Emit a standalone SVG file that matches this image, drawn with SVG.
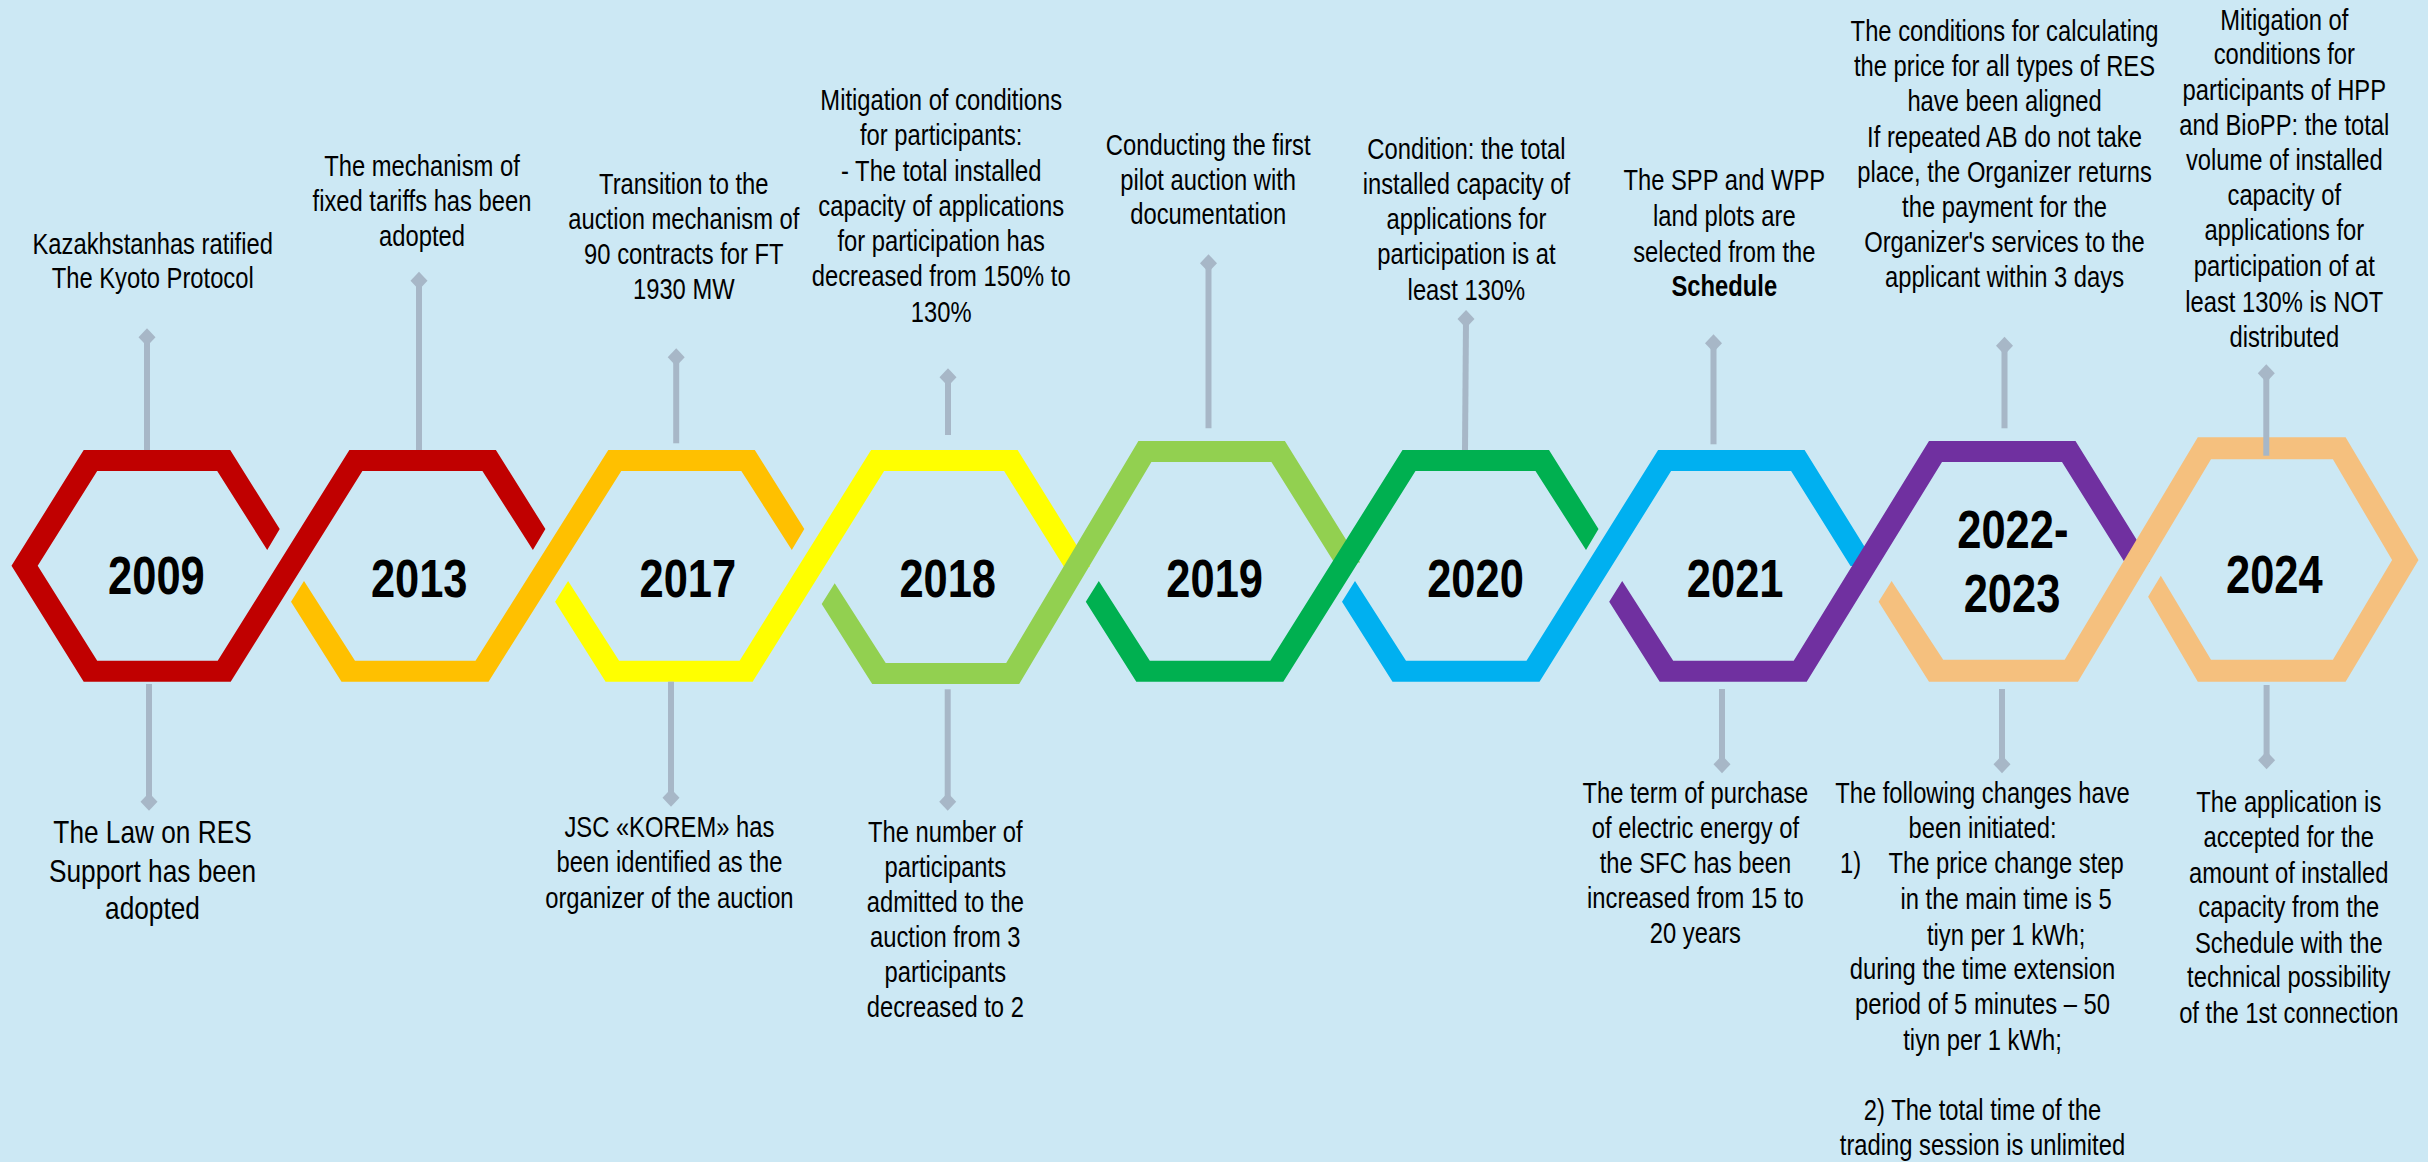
<svg xmlns="http://www.w3.org/2000/svg" width="2428" height="1162" viewBox="0 0 2428 1162">
<defs>
<style>
.t{font-family:"Liberation Sans",Arial,sans-serif;font-size:29px;fill:#000;text-anchor:middle}
.big{font-size:32px}
.yr{font-family:"Liberation Sans",Arial,sans-serif;font-size:53px;font-weight:bold;fill:#000;text-anchor:middle}
.b{font-weight:bold}
.st{text-anchor:start}
.con{stroke:#A7B7C7;stroke-width:6;fill:none;marker-start:url(#dia)}
</style>
<marker id="dia" viewBox="-10 -10 20 20" refX="0" refY="0" markerWidth="20" markerHeight="20" markerUnits="userSpaceOnUse" orient="auto">
<path d="M-9,0 L0,-8.5 L9,0 L0,8.5Z" fill="#A7B7C7"/>
</marker>
</defs>
<rect width="2428" height="1162" fill="#CCE8F4"/>

<g id="bands">
<polygon id="band-red" fill="#C00000" points="230.2,450 83.7,450 11.5,565.8 83.7,681.7 230.7,681.7 362.4,471 482.4,471 532.9,550 545.4,529 495.9,450 349.4,450 217.7,660.7 97.2,660.7 37.7,565.8 97.2,471 217.2,471 267.2,550 279.7,529"/>
<polygon id="band-orange" fill="#FFC000" points="291,601.7 304,581 355,660.7 475.5,660.7 608.3,450 754.8,450 804.3,529 791.8,550 741.3,471 621.3,471 488.5,681.7 341.5,681.7"/>
<polygon id="band-yellow" fill="#FFFF00" points="555.1,601.7 568.1,581 619.1,660.7 739.6,660.7 871.1,450 1017.6,450 1090.1,567 1064.1,567 1004.1,471 884.1,471 752.6,681.7 605.6,681.7"/>
<polygon id="band-lightgreen" fill="#92D050" points="821.7,604 834.7,583.3 885.7,663 1006.2,663 1138.4,441 1284.9,441 1360.2,562.5 1334.2,562.5 1271.4,462 1151.4,462 1019.2,684 872.2,684"/>
<polygon id="band-green" fill="#00B050" points="1085.8,601.7 1098.8,581 1149.8,660.7 1270.3,660.7 1402.5,450 1549,450 1598.5,529 1586,550 1535.5,471 1415.5,471 1283.3,681.7 1136.3,681.7"/>
<polygon id="band-blue" fill="#00B0F0" points="1342,601.7 1355,581 1406,660.7 1526.5,660.7 1658.1,450 1804.6,450 1876.5,565.9 1850.5,565.9 1791.1,471 1671.1,471 1539.5,681.7 1392.5,681.7"/>
<polygon id="band-purple" fill="#7030A0" points="1609.2,601.7 1622.2,581 1673.2,660.7 1793.7,660.7 1929,441 2075.5,441 2150.1,561.4 2124.1,561.4 2062,462 1942,462 1806.7,681.7 1659.7,681.7"/>
<polygon id="band-peach" fill="#F5C07E" points="1878.6,601.7 1891.6,581 1943.2,659.7 2064.7,659.7 2197.8,437.3 2345.6,437.3 2418.5,560 2345.6,681.7 2197.8,681.7 2148.1,596.7 2160.8,575.7 2211,659.7 2332.9,659.7 2392.1,560 2332.9,459.3 2211,459.3 2077.9,681.7 1929,681.7"/>
</g>

<g id="connectors">
<path class="con" d="M147,337.3 V450"/>
<path class="con" d="M419,280.7 V450"/>
<path class="con" d="M676.2,357.3 V443.3"/>
<path class="con" d="M948,377.3 V435"/>
<path class="con" d="M1208.5,263.3 V428.3"/>
<path class="con" d="M1466,319 L1465,450"/>
<path class="con" d="M1713.5,343.3 V444.3"/>
<path class="con" d="M2004.5,345.7 V428.3"/>
<path class="con" d="M2266.3,373.3 V455.7"/>
<path class="con" d="M149,801.7 V684"/>
<path class="con" d="M671,797.7 V681.7"/>
<path class="con" d="M947.7,801.7 V689.3"/>
<path class="con" d="M1722,764.3 V689"/>
<path class="con" d="M2002,764.3 V689"/>
<path class="con" d="M2266.6,760.3 V685"/>
</g>

<g id="node-2009">
<text class="yr" transform="translate(156.4 0) scale(0.82 1)" x="0" y="594">2009</text>
<text class="t" transform="translate(152.7 0) scale(0.82 1)"><tspan x="0" y="254">Kazakhstanhas ratified</tspan><tspan x="0" y="288.3">The Kyoto Protocol</tspan></text>
<text class="t big" transform="translate(152.5 0) scale(0.82 1)"><tspan x="0" y="843.3">The Law on RES</tspan><tspan x="0" y="881.7">Support has been</tspan><tspan x="0" y="919.3">adopted</tspan></text>
</g>

<g id="node-2013">
<text class="yr" transform="translate(419.2 0) scale(0.82 1)" x="0" y="596.7">2013</text>
<text class="t" transform="translate(422 0) scale(0.82 1)"><tspan x="0" y="175.7">The mechanism of</tspan><tspan x="0" y="210.7">fixed tariffs has been</tspan><tspan x="0" y="246">adopted</tspan></text>
</g>

<g id="node-2017">
<text class="yr" transform="translate(687.8 0) scale(0.82 1)" x="0" y="596.7">2017</text>
<text class="t" transform="translate(683.8 0) scale(0.82 1)"><tspan x="0" y="194">Transition to the</tspan><tspan x="0" y="229">auction mechanism of</tspan><tspan x="0" y="264">90 contracts for FT</tspan><tspan x="0" y="299">1930 MW</tspan></text>
<text class="t" transform="translate(669.4 0) scale(0.82 1)"><tspan x="0" y="836.7">JSC «KOREM» has</tspan><tspan x="0" y="872.3">been identified as the</tspan><tspan x="0" y="907.7">organizer of the auction</tspan></text>
</g>

<g id="node-2018">
<text class="yr" transform="translate(947.7 0) scale(0.82 1)" x="0" y="596.7">2018</text>
<text class="t" transform="translate(941.2 0) scale(0.82 1)"><tspan x="0" y="110">Mitigation of conditions</tspan><tspan x="0" y="145.3">for participants:</tspan><tspan x="0" y="180.6">- The total installed</tspan><tspan x="0" y="215.9">capacity of applications</tspan><tspan x="0" y="251.2">for participation has</tspan><tspan x="0" y="286.5">decreased from 150% to</tspan><tspan x="0" y="321.8">130%</tspan></text>
<text class="t" transform="translate(945.3 0) scale(0.82 1)"><tspan x="0" y="841.7">The number of</tspan><tspan x="0" y="876.7">participants</tspan><tspan x="0" y="911.7">admitted to the</tspan><tspan x="0" y="946.7">auction from 3</tspan><tspan x="0" y="981.7">participants</tspan><tspan x="0" y="1017.3">decreased to 2</tspan></text>
</g>

<g id="node-2019">
<text class="yr" transform="translate(1214.7 0) scale(0.82 1)" x="0" y="596.7">2019</text>
<text class="t" transform="translate(1208.2 0) scale(0.82 1)"><tspan x="0" y="155">Conducting the first</tspan><tspan x="0" y="190">pilot auction with</tspan><tspan x="0" y="224.3">documentation</tspan></text>
</g>

<g id="node-2020">
<text class="yr" transform="translate(1475.5 0) scale(0.82 1)" x="0" y="596.7">2020</text>
<text class="t" transform="translate(1466.4 0) scale(0.82 1)"><tspan x="0" y="159.3">Condition: the total</tspan><tspan x="0" y="194.3">installed capacity of</tspan><tspan x="0" y="229.3">applications for</tspan><tspan x="0" y="264.5">participation is at</tspan><tspan x="0" y="300">least 130%</tspan></text>
</g>

<g id="node-2021">
<text class="yr" transform="translate(1735.2 0) scale(0.82 1)" x="0" y="596.7">2021</text>
<text class="t" transform="translate(1724.3 0) scale(0.82 1)"><tspan x="0" y="190">The SPP and WPP</tspan><tspan x="0" y="225.7">land plots are</tspan><tspan x="0" y="261.7">selected from the</tspan><tspan x="0" y="296" class="b">Schedule</tspan></text>
<text class="t" transform="translate(1695.4 0) scale(0.82 1)"><tspan x="0" y="803.3">The term of purchase</tspan><tspan x="0" y="837.7">of electric energy of</tspan><tspan x="0" y="872.7">the SFC has been</tspan><tspan x="0" y="908.3">increased from 15 to</tspan><tspan x="0" y="943.3">20 years</tspan></text>
</g>

<g id="node-2022-2023">
<text class="yr" transform="translate(2012 0) scale(0.82 1)"><tspan x="1" y="547.7">2022-</tspan><tspan x="0" y="611.7">2023</tspan></text>
<text class="t" transform="translate(2004.5 0) scale(0.82 1)"><tspan x="0" y="40.7">The conditions for calculating</tspan><tspan x="0" y="76">the price for all types of RES</tspan><tspan x="0" y="111">have been aligned</tspan><tspan x="0" y="146.7">If repeated AB do not take</tspan><tspan x="0" y="181.7">place, the Organizer returns</tspan><tspan x="0" y="217.3">the payment for the</tspan><tspan x="0" y="252.3">Organizer's services to the</tspan><tspan x="0" y="287.3">applicant within 3 days</tspan></text>
<text class="t" transform="translate(1982.5 0) scale(0.82 1)"><tspan x="0" y="803.3">The following changes have</tspan><tspan x="0" y="838.3">been initiated:</tspan><tspan x="28.8" y="873.3">The price change step</tspan><tspan x="28.8" y="909.3">in the main time is 5</tspan><tspan x="28.8" y="945">tiyn per 1 kWh;</tspan><tspan x="0" y="979.3">during the time extension</tspan><tspan x="0" y="1014.3">period of 5 minutes – 50</tspan><tspan x="0" y="1050">tiyn per 1 kWh;</tspan><tspan x="0" y="1120">2) The total time of the</tspan><tspan x="0" y="1155">trading session is unlimited</tspan></text>
<text class="t st" transform="translate(1840 0) scale(0.82 1)" x="0" y="873.3">1)</text>
</g>

<g id="node-2024">
<text class="yr" transform="translate(2274.3 0) scale(0.82 1)" x="0" y="593.3">2024</text>
<text class="t" transform="translate(2284.3 0) scale(0.82 1)"><tspan x="0" y="30">Mitigation of</tspan><tspan x="0" y="64.3">conditions for</tspan><tspan x="0" y="100">participants of HPP</tspan><tspan x="0" y="135">and BioPP: the total</tspan><tspan x="0" y="170">volume of installed</tspan><tspan x="0" y="205">capacity of</tspan><tspan x="0" y="240">applications for</tspan><tspan x="0" y="276">participation of at</tspan><tspan x="0" y="311.7">least 130% is NOT</tspan><tspan x="0" y="346.7">distributed</tspan></text>
<text class="t" transform="translate(2288.8 0) scale(0.82 1)"><tspan x="0" y="811.7">The application is</tspan><tspan x="0" y="846.7">accepted for the</tspan><tspan x="0" y="882.7">amount of installed</tspan><tspan x="0" y="916.7">capacity from the</tspan><tspan x="0" y="952.7">Schedule with the</tspan><tspan x="0" y="987.3">technical possibility</tspan><tspan x="0" y="1022.7">of the 1st connection</tspan></text>
</g>
</svg>
